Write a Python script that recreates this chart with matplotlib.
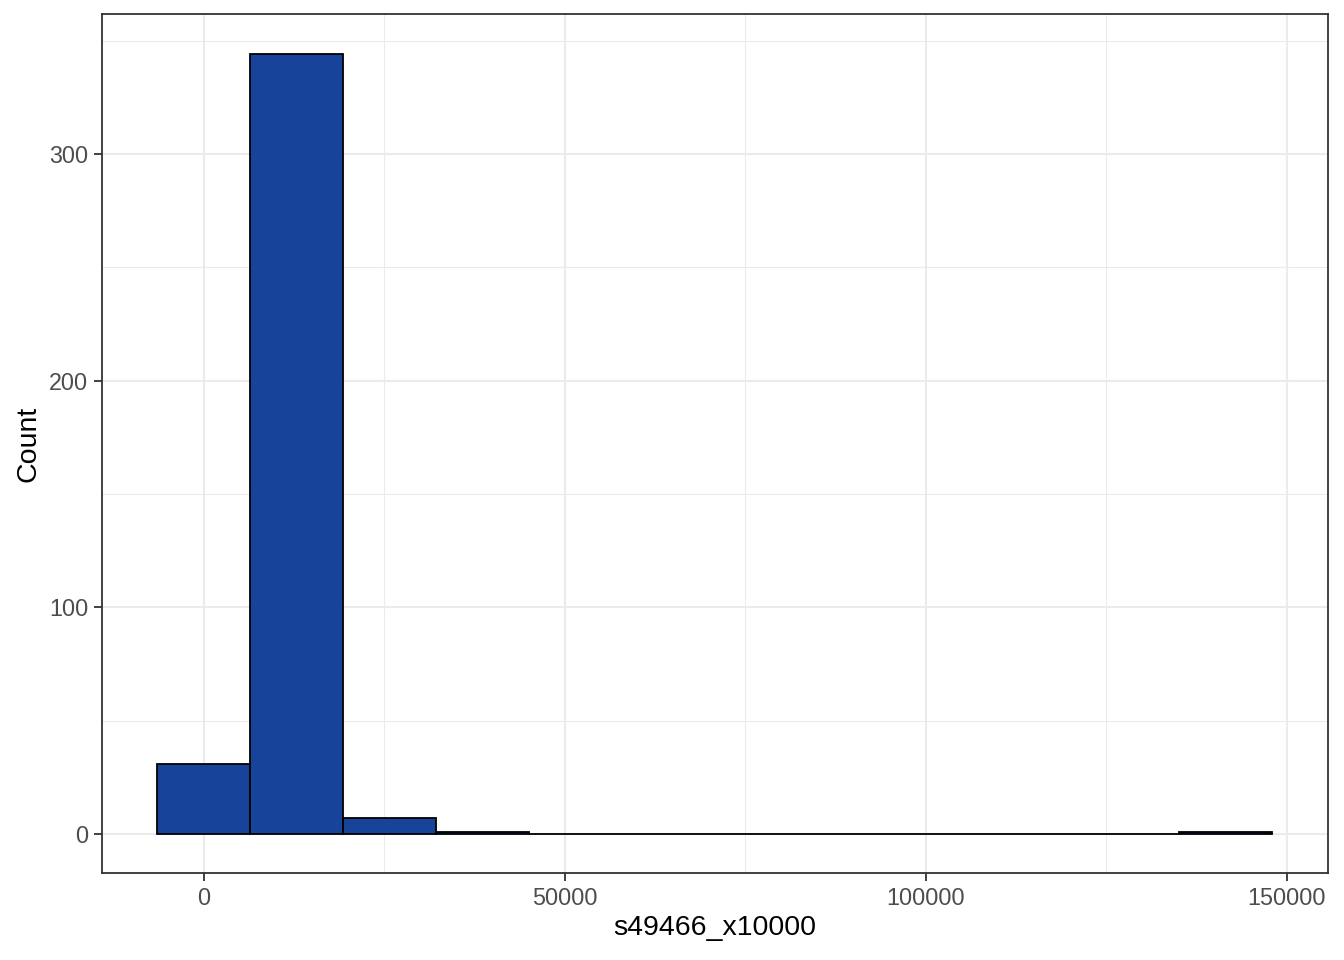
import numpy as np
import matplotlib.pyplot as plt
from matplotlib.ticker import MultipleLocator

plt.rcParams['font.family'] = ['Liberation Sans', 'DejaVu Sans']

# histogram bins
bin_start = -6480
bin_width = 12870
counts = [31, 344, 7, 1, 0, 0, 0, 0, 0, 0, 0, 1]

edges = bin_start + bin_width * np.arange(len(counts) + 1)

fig = plt.figure(figsize=(13.44, 9.6), dpi=100)
ax = fig.add_axes([102 / 1344, 1 - 873 / 960, (1328 - 102) / 1344, (873 - 14) / 960])

ax.bar(edges[:-1], counts, width=bin_width, align='edge',
       color='#17449a', edgecolor='black', linewidth=1.3, zorder=3)

ax.set_xlim(-14100, 155700)
ax.set_ylim(-17.2, 361.8)

ax.xaxis.set_major_locator(MultipleLocator(50000))
ax.xaxis.set_minor_locator(MultipleLocator(25000))
ax.yaxis.set_major_locator(MultipleLocator(100))
ax.yaxis.set_minor_locator(MultipleLocator(50))

ax.grid(which='major', color='#ebebeb', linewidth=1.5, zorder=0)
ax.grid(which='minor', color='#ebebeb', linewidth=0.75, zorder=0)
ax.set_axisbelow(True)

for s in ax.spines.values():
    s.set_color('#333333')
    s.set_linewidth(1.3)

ax.tick_params(which='major', direction='out', length=6, width=1.3,
               color='#333333', labelcolor='#4d4d4d', labelsize=16.8, pad=4)
ax.tick_params(which='minor', length=0)

ax.set_xlabel('s49466_x10000', fontsize=20.5, color='black', labelpad=4)
ax.set_ylabel('Count', fontsize=20.5, color='black', labelpad=5)

fig.savefig('out.png', dpi=100)
